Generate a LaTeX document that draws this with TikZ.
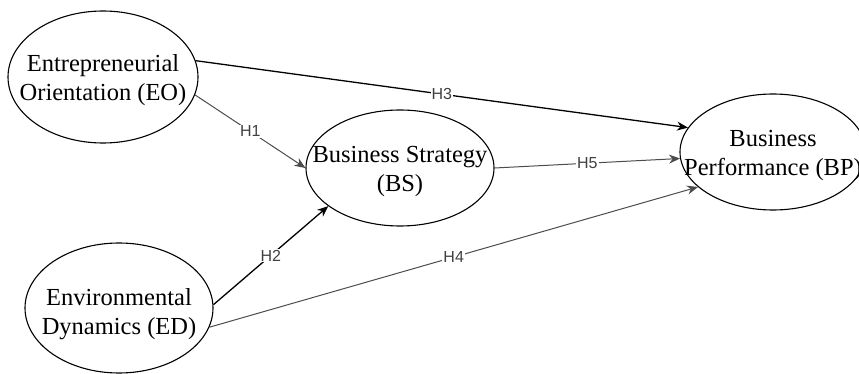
\documentclass[tikz,border=0pt]{standalone}
\usepackage{fontspec}
\setmainfont{Liberation Serif}
\newfontfamily\labfont{Liberation Sans}
\usetikzlibrary{shapes.geometric,arrows.meta}
\begin{document}
\begin{tikzpicture}[x=1pt,y=1pt,
  ell/.style={draw, ellipse, line width=1.1pt, inner sep=0pt},
  txt/.style={align=center, font=\fontsize{24.5}{29}\selectfont, inner sep=0pt},
  hyp/.style={-{Stealth[length=11pt,width=9pt]}},
  strong/.style={hyp, line width=1.3pt, draw=black},
  weak/.style={hyp, line width=1pt, draw=black!70},
  lab/.style={fill=white, font=\labfont\fontsize{16}{18}\selectfont, inner sep=1pt, pos=0.5, text=black!75}
]
\useasboundingbox (0,0) rectangle (859,-374);
\node[ell, minimum width=190pt, minimum height=132pt] (eo) at (103,-77) {};
\node[txt] (eot) at (103,-80) {Entrepreneurial\\Orientation (EO)};
\node[ell, minimum width=188pt, minimum height=116pt] (bs) at (400,-168) {};
\node[txt] (bst) at (400,-171) {Business Strategy\\(BS)};
\node[ell, minimum width=186pt, minimum height=116pt] (bp) at (773,-152) {};
\node[txt] (bpt) at (773,-155) {Business\\Performance (BP)};
\node[ell, minimum width=188pt, minimum height=130pt] (ed) at (119,-308) {};
\node[txt] (edt) at (119,-314) {Environmental\\Dynamics (ED)};

\draw[strong] (eo.10) -- node[lab]{H3} (bp.164);
\draw[weak] (eo.-11) -- node[lab]{H1} (bs.180);
\draw[strong] (ed.2) -- node[lab]{H2} (bs.-152);
\draw[weak] (ed.-12) -- node[lab]{H4} (bp.-155);
\draw[weak] (bs.0) -- node[lab]{H5} (bp.184);
\end{tikzpicture}
\end{document}
